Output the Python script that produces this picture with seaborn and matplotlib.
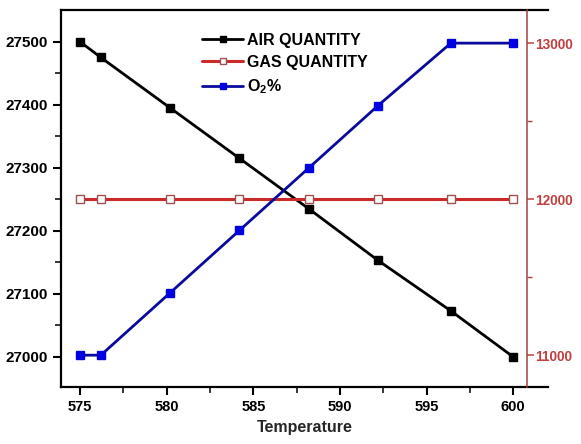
import matplotlib
matplotlib.use("Agg")
import matplotlib.pyplot as plt
import seaborn as sns

# data
temperature = [575, 576.2, 580.2, 584.2, 588.2, 592.2, 596.4, 600]
air_quantity = [27500, 27475, 27395, 27315, 27235, 27153, 27073, 27000]
gas_quantity = [12000, 12000, 12000, 12000, 12000, 12000, 12000, 12000]
o2_percent = [11000, 11000, 11400, 11800, 12200, 12600, 13000, 13000]

left_ticks = [27000, 27100, 27200, 27300, 27400, 27500]
right_ticks = [11000, 12000, 13000]
x_ticks = [575, 580, 585, 590, 595, 600]

sns.set_style("white")
plt.rcParams['font.family'] = ['Liberation Sans', 'DejaVu Sans']
plt.rcParams['font.weight'] = 'bold'
plt.rcParams['text.color'] = 'black'
plt.rcParams['mathtext.fontset'] = 'custom'
plt.rcParams['mathtext.rm'] = 'Liberation Sans:bold'
plt.rcParams['mathtext.it'] = 'Liberation Sans:bold'
plt.rcParams['mathtext.bf'] = 'Liberation Sans:bold'

red = '#cc2a2a'
axred = '#a34040'
fig = plt.figure(figsize=(5.81, 4.44), dpi=100)
ax = fig.add_axes([0.105, 0.128, 0.838, 0.849])
ax2 = ax.twinx()

sns.lineplot(x=temperature, y=air_quantity, ax=ax, color='black', marker='s',
             markersize=6, markeredgewidth=1, linewidth=2, markeredgecolor='black',
             label='AIR QUANTITY', legend=False)
sns.lineplot(x=temperature, y=gas_quantity, ax=ax2, color=red, marker='s',
             markersize=6, markeredgewidth=1, linewidth=2.2, markerfacecolor='white',
             markeredgecolor='#a05050', label='GAS QUANTITY', legend=False)
sns.lineplot(x=temperature, y=o2_percent, ax=ax2, color='#0a0a9c', marker='s',
             markersize=6, markeredgewidth=1, linewidth=2, markerfacecolor='#0000e0',
             markeredgecolor='#0000e0', label='O$_2$%', legend=False)

ax.set_xlim(573.9, 602.0)
ax.set_ylim(26952, 27550)
ax2.set_ylim(10795, 13211)

ax.set_xticks(x_ticks)
ax.set_xticks([577.5, 582.5, 587.5, 592.5, 597.5], minor=True)
ax.set_yticks(left_ticks)
ax.set_yticks([27050, 27150, 27250, 27350, 27450], minor=True)
ax2.set_yticks(right_ticks)
ax2.set_yticks([11500, 12500], minor=True)

for s in ['left', 'bottom', 'top']:
    ax.spines[s].set_color('black')
    ax.spines[s].set_linewidth(1.6)
ax.spines['right'].set_visible(False)
ax2.spines['left'].set_visible(False)
ax2.spines['top'].set_visible(False)
ax2.spines['bottom'].set_visible(False)
ax2.spines['right'].set_position(('data', 600.8))
ax2.spines['right'].set_color(axred)
ax2.spines['right'].set_linewidth(1.1)

ax.tick_params(axis='both', which='major', direction='out', length=6, width=1.5,
               labelsize=11, colors='black', left=True, bottom=True)
ax.tick_params(axis='x', which='major', labelsize=10.5)
ax.tick_params(axis='both', which='minor', direction='out', length=4, width=1.3,
               left=True, bottom=True)
ax2.tick_params(axis='y', which='major', direction='out', length=5, width=1.1,
                labelsize=9.8, colors='#c04040', pad=1, right=True)
ax2.tick_params(axis='y', which='minor', direction='out', length=3.5, width=1.0,
                colors=axred, right=True)
for t in ax.get_xticklabels() + ax.get_yticklabels() + ax2.get_yticklabels():
    t.set_fontweight('bold')

ax.set_xlabel('Temperature', fontsize=11.5, fontweight='bold', labelpad=4)
ax.set_ylabel('')
ax2.set_ylabel('')

h1, l1 = ax.get_legend_handles_labels()
h2, l2 = ax2.get_legend_handles_labels()
leg = ax.legend(h1 + h2, l1 + l2, loc='upper left', bbox_to_anchor=(0.26, 0.978),
                frameon=False, handlelength=2.6, handletextpad=0.2, labelspacing=0.45,
                markerscale=0.8, prop={'size': 11.5, 'weight': 'bold'})

fig.savefig('out.png', dpi=100)
